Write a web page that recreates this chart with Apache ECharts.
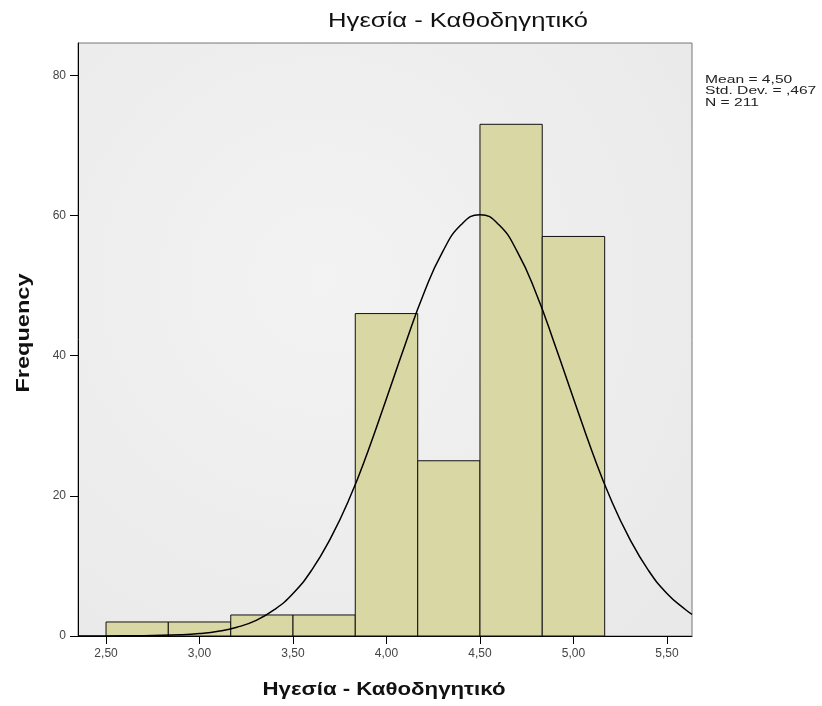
<!DOCTYPE html>
<html><head><meta charset="utf-8">
<script src="https://cdn.jsdelivr.net/npm/echarts@6/dist/echarts.min.js"></script>
<style>html,body{margin:0;padding:0;background:#fff}#c{width:822px;height:706px}</style>
</head><body><div id="c"></div>
<script>
var binStarts = [2.500, 2.833, 3.167, 3.500, 3.833, 4.167, 4.500, 4.833];
var binEnds   = [2.833, 3.167, 3.500, 3.833, 4.167, 4.500, 4.833, 5.167];
var counts    = [2, 2, 3, 3, 46, 25, 73, 57];
var curveX = [2.35, 2.5, 2.7, 2.9, 3.0, 3.1, 3.2, 3.3, 3.4, 3.5, 3.6, 3.7, 3.8, 3.9, 4.0, 4.1, 4.2, 4.3, 4.4, 4.5, 4.6, 4.7, 4.8, 4.9, 5.0, 5.1, 5.2, 5.3, 5.4, 5.5, 5.6, 5.634];
var curveY = [0, 0.01, 0.04, 0.17, 0.34, 0.67, 1.25, 2.2, 3.75, 6.07, 9.4, 13.9, 19.5, 26.3, 33.9, 41.6, 48.9, 54.8, 58.7, 60.1, 58.7, 54.8, 48.9, 41.6, 33.9, 26.3, 19.5, 13.9, 9.4, 6.07, 3.75, 3.1];
var xTicks = [2.5, 3.0, 3.5, 4.0, 4.5, 5.0, 5.5];
var yTicks = [0, 20, 40, 60, 80];
var titleText = 'Ηγεσία - Καθοδηγητικό';
var xName = 'Ηγεσία - Καθοδηγητικό';
var yName = 'Frequency';
var statsLines = ['Mean = 4,50', 'Std. Dev. = ,467', 'N = 211'];

var bars = binStarts.map(function(s, i){ return [s, binEnds[i], counts[i]]; });
var curve = curveX.map(function(x, i){ return [x, curveY[i]]; });
var FF = 'Liberation Sans, Arial, sans-serif';

var chart = echarts.init(document.getElementById('c'));
chart.setOption({
  animation: false,
  backgroundColor: '#ffffff',
  textStyle: {fontFamily: FF},
  grid: {
    left: 78, top: 43, right: 130, bottom: 70, show: true,
    borderColor: '#777', borderWidth: 1,
    backgroundColor: {
      type: 'radial', x: 0.4, y: 0.4, r: 0.8,
      colorStops: [{offset: 0, color: '#f3f3f3'}, {offset: 1, color: '#e9e9e9'}]
    }
  },
  xAxis: {
    type: 'value', min: 2.35, max: 5.634,
    axisLine: {show: true, onZero: false, lineStyle: {color: '#000', width: 1}},
    axisTick: {show: true, customValues: xTicks, length: 8, lineStyle: {color: '#000'}},
    axisLabel: {customValues: xTicks, color: '#444', fontSize: 12, margin: 12,
      formatter: function(v){ return v.toFixed(2).replace('.', ','); }},
    splitLine: {show: false}
  },
  yAxis: {
    type: 'value', min: 0, max: 84.6,
    axisLine: {show: true, lineStyle: {color: '#000', width: 1}},
    axisTick: {show: true, customValues: yTicks, length: 8, lineStyle: {color: '#000'}},
    axisLabel: {customValues: yTicks, color: '#444', fontSize: 12, margin: 12},
    splitLine: {show: false}
  },
  graphic: [{
    type: 'text', x: 458, y: 21, scaleX: 1.28,
    style: {text: titleText, fontSize: 20, fill: '#111', fontFamily: FF,
      textAlign: 'center', textVerticalAlign: 'middle'}
  }, {
    type: 'text', x: 384, y: 690, scaleX: 1.17,
    style: {text: xName, fontSize: 19, fontWeight: 'bold', fill: '#111', fontFamily: FF,
      textAlign: 'center', textVerticalAlign: 'middle'}
  }, {
    type: 'text', x: 24, y: 333, rotation: Math.PI / 2, scaleX: 1.24,
    style: {text: yName, fontSize: 19, fontWeight: 'bold', fill: '#111', fontFamily: FF,
      textAlign: 'center', textVerticalAlign: 'middle'}
  }, {
    type: 'text', x: 705, y: 74, scaleX: 1.42,
    style: {text: statsLines.join('\n'), fontSize: 11, lineHeight: 11.5, fill: '#222', fontFamily: FF,
      textAlign: 'left', textVerticalAlign: 'top'}
  }],
  series: [{
    type: 'custom',
    data: bars,
    encode: {x: [0, 1], y: 2},
    renderItem: function(params, api){
      var p0 = api.coord([api.value(0), api.value(2)]);
      var p1 = api.coord([api.value(1), 0]);
      return {type: 'rect', shape: {x: p0[0], y: p0[1], width: p1[0] - p0[0], height: p1[1] - p0[1]},
        style: {fill: '#d9d7a3', stroke: '#111', lineWidth: 1}};
    },
    z: 2
  }, {
    type: 'line', data: curve, smooth: true, showSymbol: false, symbol: 'none',
    lineStyle: {color: '#000', width: 1.5}, z: 3
  }]
});
</script></body></html>
